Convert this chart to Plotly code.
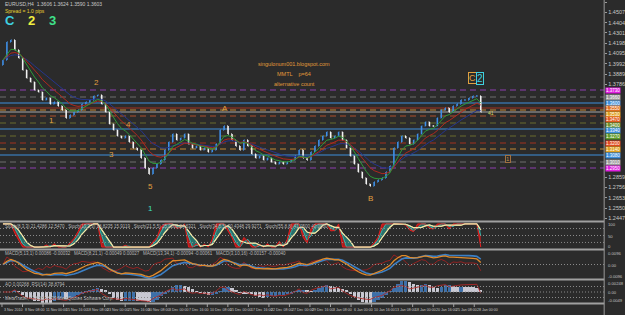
import plotly.graph_objects as go
import pandas as pd
import numpy as np

# ---------------- data ----------------
first_open = 1.3980
closes = [
    1.4030, 1.4210, 1.4230, 1.4130, 1.4050, 1.3930, 1.3850, 1.3810, 1.3730, 1.3710,
    1.3630, 1.3650, 1.3590, 1.3610, 1.3570, 1.3530, 1.3450, 1.3480, 1.3510, 1.3530,
    1.3590, 1.3610, 1.3630, 1.3670, 1.3680, 1.3590, 1.3510, 1.3390, 1.3330, 1.3270,
    1.3250, 1.3270, 1.3210, 1.3150, 1.3130, 1.3050, 1.2950, 1.2890, 1.2950, 1.2990,
    1.3030, 1.3130, 1.3210, 1.3290, 1.3230, 1.3250, 1.3290, 1.3190, 1.3150, 1.3170,
    1.3130, 1.3150, 1.3110, 1.3130, 1.3190, 1.3330, 1.3370, 1.3290, 1.3230, 1.3170,
    1.3130, 1.3230, 1.3170, 1.3090, 1.3050, 1.3070, 1.3030, 1.3050, 1.3010, 1.2990,
    1.3010, 1.2990, 1.3010, 1.3030, 1.3070, 1.3130, 1.3050, 1.3030, 1.3110, 1.3170,
    1.3230, 1.3270, 1.3310, 1.3250, 1.3270, 1.3310, 1.3230, 1.3150, 1.3070, 1.2990,
    1.2910, 1.2850, 1.2790, 1.2770, 1.2810, 1.2830, 1.2850, 1.2910, 1.2970, 1.3150,
    1.3210, 1.3270, 1.3250, 1.3190, 1.3230, 1.3290, 1.3370, 1.3410, 1.3370, 1.3370,
    1.3450, 1.3530, 1.3550, 1.3510, 1.3570, 1.3590, 1.3630, 1.3630, 1.3650, 1.3670,
    1.3670, 1.3510,
]

price_ticks = [1.4610, 1.4507, 1.4404, 1.4301, 1.4198, 1.4095, 1.3992, 1.3889,
               1.3786, 1.2859, 1.2756, 1.2653, 1.2550, 1.2447]

level_prices = [1.3730, 1.3660, 1.3600, 1.3550, 1.3530, 1.3470, 1.3400, 1.3340,
                1.3270, 1.3200, 1.3140, 1.3080, 1.3010, 1.2950]
level_line_colors = ["#8e3fb0", "#6e6e6e", "#3f8fdc", "#a3321f", "#c58a34", "#b0502c",
                     "#6b6d2e", "#3f8fdc", "#6b6d2e", "#a3321f", "#c58a34", "#3f8fdc",
                     "#6e6e6e", "#8e3fb0"]
level_box_colors = ["#e020e0", "#9a9a9a", "#3f8fdc", "#e07020", "#e0a020", "#e05a20",
                    "#6f8f2a", "#3f8fdc", "#5f9a2a", "#e04a20", "#e0a020", "#3f8fdc",
                    "#9a9a9a", "#e020e0"]
level_dash = ["dash", "dash", "solid", "solid", "dash", "dash", "dash", "solid",
              "dash", "dash", "dash", "solid", "dash", "dash"]

date_labels = ["3 Nov 2010", "8 Nov 08:00", "11 Nov 00:00", "15 Nov 16:00", "18 Nov 08:00",
               "23 Nov 00:00", "25 Nov 16:00", "30 Nov 08:00", "3 Dec 00:00", "7 Dec 16:00",
               "10 Dec 08:00", "15 Dec 00:00", "17 Dec 16:00", "22 Dec 08:00", "27 Dec 00:00",
               "29 Dec 16:00", "3 Jan 08:00", "6 Jan 00:00", "10 Jan 16:00", "13 Jan 08:00",
               "18 Jan 00:00", "20 Jan 16:00", "25 Jan 08:00", "28 Jan 00:00"]

# ---------------- derived series ----------------
n = len(closes)
xs = list(range(n))
opens = [first_open] + closes[:-1]
highs = [max(o, c) for o, c in zip(opens, closes)]
lows = [min(o, c) for o, c in zip(opens, closes)]
s = pd.Series(closes)
ema = lambda k: s.ewm(span=k, adjust=False).mean()
ma_green, ma_red, ma_navy = ema(5), ema(9), ema(15)

hh = pd.Series(highs).rolling(5, min_periods=1).max()
ll = pd.Series(lows).rolling(5, min_periods=1).min()
stk = (100 * (s - ll) / (hh - ll).replace(0, np.nan)).fillna(50)
std = stk.rolling(2, min_periods=1).mean()
sts = stk.rolling(4, min_periods=1).mean()

macd_o = ema(4) - ema(10)
macd_b = ema(6) - ema(14)
macd_r = s - ema(3)

ao = s.rolling(3, min_periods=1).mean() - s.rolling(12, min_periods=1).mean()
ao_col = ["#3d6fa8" if i == 0 or ao[i] >= ao[i - 1] else "#c8c8d2" for i in range(n)]
d = s.diff().fillna(0)
up = d.clip(lower=0).ewm(alpha=1 / 7, adjust=False).mean()
dn = (-d.clip(upper=0)).ewm(alpha=1 / 7, adjust=False).mean()
rsi = (100 - 100 / (1 + up / dn.replace(0, np.nan))).fillna(50)

# ---------------- figure ----------------
W, H = 625, 315
BG = "#2b2b2b"
XR = [-0.75, 152.25]
XD = [0, 612 / W]
px = lambda x: x / W
py = lambda y: 1 - y / H
FONT = "Liberation Sans, Arial, sans-serif"
NARROW = "Liberation Sans Narrow, Liberation Sans, sans-serif"
Y_TOP = 1.463  # price at the top pixel row
PX_PER_UNIT = 1000.0

fig = go.Figure()

for ser, col in [(ma_navy, "#25358c"), (ma_red, "#b0281e"), (ma_green, "#2e9a38")]:
    fig.add_trace(go.Scatter(x=xs, y=ser, mode="lines", line=dict(color=col, width=1),
                             xaxis="x", yaxis="y", hoverinfo="skip"))
fig.add_trace(go.Ohlc(x=xs, open=opens, high=highs, low=lows, close=closes,
                      increasing=dict(line=dict(color="#3f8fe6", width=1.6)),
                      decreasing=dict(line=dict(color="#f2f2f2", width=1.6)),
                      tickwidth=0.2, xaxis="x", yaxis="y", hoverinfo="skip"))

fig.add_trace(go.Scatter(x=xs, y=sts, mode="lines", line=dict(color="#e8d890", width=1),
                         xaxis="x2", yaxis="y2"))
fig.add_trace(go.Scatter(x=xs, y=std, mode="lines", line=dict(color="#2fb8b0", width=1),
                         fill="tonexty", fillcolor="rgba(40,170,160,0.55)", xaxis="x2", yaxis="y2"))
fig.add_trace(go.Scatter(x=xs, y=stk, mode="lines", line=dict(color="#e02020", width=1),
                         fill="tonexty", fillcolor="rgba(215,25,25,0.75)", xaxis="x2", yaxis="y2"))
fig.add_trace(go.Scatter(x=xs, y=sts, mode="lines", line=dict(color="#f0e6a8", width=1.2),
                         xaxis="x2", yaxis="y2"))

fig.add_trace(go.Scatter(x=xs, y=macd_r, mode="lines", line=dict(color="#b02020", width=0.8),
                         xaxis="x3", yaxis="y3"))
fig.add_trace(go.Scatter(x=xs, y=macd_b, mode="lines", line=dict(color="#3c7fc4", width=1.6),
                         xaxis="x3", yaxis="y3"))
fig.add_trace(go.Scatter(x=xs, y=macd_o, mode="lines", line=dict(color="#e08a2a", width=1.3),
                         xaxis="x3", yaxis="y3"))

fig.add_trace(go.Bar(x=xs, y=ao, marker=dict(color=ao_col, line=dict(width=0)), width=0.85,
                     xaxis="x4", yaxis="y4"))
fig.add_trace(go.Scatter(x=xs, y=rsi, mode="lines", line=dict(color="#b02828", width=0.9),
                         xaxis="x4", yaxis="y5"))

ax_common = dict(domain=XD, range=XR, showgrid=False, zeroline=False, showticklabels=False,
                 fixedrange=True, ticks="")
y_main_rng = [Y_TOP - 221 / PX_PER_UNIT, Y_TOP]

shapes = []
annotations = []

# level lines and right-hand price boxes (boxes stacked so they do not collide)
prev_c = -100.0
for p, lc, bc, ds in zip(level_prices, level_line_colors, level_box_colors, level_dash):
    shapes.append(dict(type="line", xref="paper", yref="y", x0=0, x1=XD[1], y0=p, y1=p,
                       line=dict(color=lc, width=1.2 if ds == "solid" else 1,
                                 dash="solid" if ds == "solid" else "6px,4px"), layer="below"))
    ypx = (Y_TOP - p) * PX_PER_UNIT
    c = max(ypx, prev_c + 5.6)
    prev_c = c
    annotations.append(dict(xref="paper", yref="y", x=px(613), y=p, text=f"{p:.4f}",
                            xanchor="left", yanchor="middle", showarrow=False,
                            yshift=-(c - ypx),
                            font=dict(size=4.5, color="#ffffff", family=FONT),
                            bgcolor=bc, borderpad=0))
cur = closes[-1]
shapes.append(dict(type="line", xref="paper", yref="y", x0=0, x1=XD[1], y0=cur, y1=cur,
                   line=dict(color="#a8a8a8", width=1), layer="below"))

for yy in [221.5, 249.5, 279.5, 303.5]:
    shapes.append(dict(type="line", xref="paper", yref="paper", x0=0, x1=XD[1],
                       y0=py(yy), y1=py(yy), line=dict(color="#a0a0a0", width=2)))
shapes.append(dict(type="line", xref="paper", yref="paper", x0=XD[1], x1=XD[1],
                   y0=py(315), y1=1, line=dict(color="#9a9a9a", width=1)))

for yr, v in [("y2", 80), ("y2", 50), ("y2", 20), ("y3", 0), ("y4", 0)]:
    shapes.append(dict(type="line", xref="paper", yref=yr, x0=0, x1=XD[1], y0=v, y1=v,
                       line=dict(color="#8a8a8a", width=1, dash="1px,2px")))
for v in [75, 25]:
    shapes.append(dict(type="line", xref="paper", yref="y5", x0=0, x1=XD[1], y0=v, y1=v,
                       line=dict(color="#8a8a8a", width=1, dash="1px,2px")))

for j, lab in enumerate(date_labels):
    xp = 2 + 20.8 * j
    shapes.append(dict(type="line", xref="paper", yref="paper", x0=px(xp), x1=px(xp),
                       y0=py(303.5), y1=py(307), line=dict(color="#a0a0a0", width=1)))
    annotations.append(dict(xref="paper", yref="paper", x=px(xp + 0.5), y=py(309.5), text=lab,
                            xanchor="left", yanchor="middle", showarrow=False,
                            font=dict(size=3.6, color="#c8c8c8", family=NARROW)))


def txt(x, y, t, size, color, xa="center", fam=FONT, **kw):
    annotations.append(dict(xref="paper", yref="paper", x=px(x), y=py(y), text=t,
                            xanchor=xa, yanchor="middle", showarrow=False,
                            font=dict(size=size, color=color, family=fam), **kw))


txt(3, 4, "EURUSD,H4  1.3606 1.3624 1.3590 1.3603", 5, "#c8c8c8", "left")
txt(3, 11, "Spread = 1.0 pips", 5, "#e8d030", "left")
txt(10, 20, "<b>C</b>", 13, "#3fd0e0")
txt(32, 20, "<b>2</b>", 13, "#f0f040")
txt(53, 20, "<b>3</b>", 13, "#3fe08a")
txt(298, 64, "singulonum001.blogspot.com", 5.5, "#e09a3a")
txt(298, 74, "MMTL    p=64", 5.5, "#e09a3a")
txt(298, 84, "alternative count", 5.5, "#e09a3a")
for x, y, t in [(52, 120, "1"), (98, 83, "2"), (113, 154, "3"), (130, 125, "4"),
                (152, 186, "5"), (228, 108, "A"), (375, 198, "B")]:
    txt(x, y, t, 8, "#e0a040")
txt(152, 208, "1", 8, "#3fe0c0")
txt(479, 78, "C", 9, "#e0a040", bordercolor="#e0a040", borderwidth=1, borderpad=0)
txt(486, 78, "2", 10, "#3fd0e0", bordercolor="#3fd0e0", borderwidth=1, borderpad=0)
txt(515, 159, "1", 6, "#c09050", bordercolor="#a07040", borderwidth=1, borderpad=0)
txt(497, 113, "41", 5, "#d8d860")
txt(3, 226, "Stoch(8,3,3) 21.4286 12.5470   Stoch(13,3,3) 18.8235 15.9119   Stoch(21,5,5) 25.0000 24.6321"
            "   Stoch(34,5,5) 30.4348 29.9271   Stoch(55,8,8) 41.2500 40.0000", 4.5, "#b8b8b8", "left")
txt(3, 253, "MACD(5,13,1) 0.00086 -0.00032   MACD(8,21,1) -0.00049 0.00027   MACD(13,34,1) -0.00094 -0.00061"
            "   MACD(3,10,16) -0.00157 -0.00040", 4.5, "#b8b8b8", "left")
txt(3, 284, "AO 0.00268  RSI(14) 38.8794", 4.5, "#b8b8b8", "left")
txt(3, 298, "MetaTrader, © 2001-2009 MetaQuotes Software Corp.", 4.5, "#b8b8b8", "left")
for y, t in [(224.5, "100"), (236, "50"), (246.5, "0"), (253, "0.0096"), (265, "0.00"),
             (276.5, "-0.0096"), (283.5, "0.00248"), (292, "0.00"), (300.5, "-0.0049")]:
    txt(614, y, t, 4.2, "#c0c0c0", "left")

mr = float(max(abs(macd_r).max(), abs(macd_b).max(), abs(macd_o).max())) * 1.05
ar = float(abs(ao).max()) * 0.95

fig.update_layout(
    width=W, height=H, margin=dict(l=0, r=0, t=0, b=0),
    paper_bgcolor=BG, plot_bgcolor=BG, showlegend=False, hovermode=False,
    font=dict(family=FONT, color="#c8c8c8"),
    xaxis=dict(**ax_common, anchor="y", rangeslider=dict(visible=False)),
    xaxis2=dict(**ax_common, anchor="y2", matches="x"),
    xaxis3=dict(**ax_common, anchor="y3", matches="x"),
    xaxis4=dict(**ax_common, anchor="y4", matches="x"),
    yaxis=dict(domain=[py(221), 1], range=y_main_rng, side="right", anchor="x",
               tickvals=price_ticks, ticktext=[f"{v:.4f}" for v in price_ticks],
               tickfont=dict(size=5.5, color="#c8c8c8"), ticks="outside", ticklen=2,
               tickcolor="#9a9a9a", showgrid=False, zeroline=False, fixedrange=True),
    yaxis2=dict(domain=[py(248), py(223)], range=[-4, 104], anchor="x2", showgrid=False,
                zeroline=False, showticklabels=False, fixedrange=True),
    yaxis3=dict(domain=[py(279), py(250)], range=[-mr, mr], anchor="x3", showgrid=False,
                zeroline=False, showticklabels=False, fixedrange=True),
    yaxis4=dict(domain=[py(303), py(281)], range=[-ar, ar], anchor="x4", showgrid=False,
                zeroline=False, showticklabels=False, fixedrange=True),
    yaxis5=dict(domain=[py(303), py(281)], range=[0, 100], overlaying="y4", anchor="x4",
                showgrid=False, zeroline=False, showticklabels=False, fixedrange=True),
    shapes=shapes, annotations=annotations, bargap=0,
)

fig.write_html("out.html")
